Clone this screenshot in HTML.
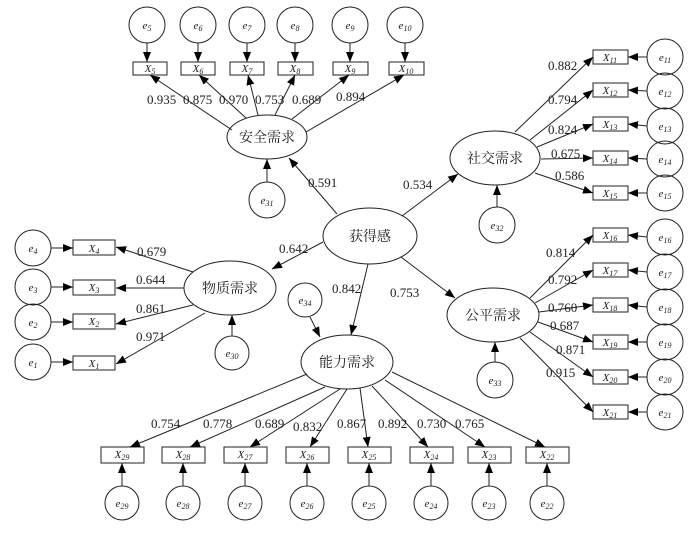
<!DOCTYPE html>
<html><head><meta charset="utf-8"><style>
html,body{margin:0;padding:0;background:#fff}
svg{display:block}
text{font-family:"Liberation Serif","Noto Serif CJK SC",serif;fill:#222}
.n{font-size:13px}
.cn{font-size:14px;font-family:"Liberation Serif","Noto Serif CJK SC",serif}
.v{font-style:italic;font-size:11px}
</style></head><body>
<svg width="696" height="536" viewBox="0 0 696 536" xmlns="http://www.w3.org/2000/svg">
<defs><marker id="a" viewBox="0 0 10 8" refX="10" refY="4" markerWidth="10" markerHeight="8" markerUnits="userSpaceOnUse" orient="auto"><path d="M0,0L10,4L0,8z" fill="#000"/></marker></defs>
<g stroke="#222" stroke-width="1" fill="none">
<!-- ellipses -->
<ellipse cx="267" cy="137" rx="40" ry="22"/>
<ellipse cx="370" cy="236" rx="47" ry="28"/>
<ellipse cx="230" cy="288" rx="46" ry="27"/>
<ellipse cx="347" cy="362" rx="46" ry="27"/>
<ellipse cx="495" cy="158" rx="45" ry="27"/>
<ellipse cx="493" cy="315" rx="46" ry="27"/>
<!-- top -->
<circle cx="147" cy="25" r="18"/><circle cx="198" cy="25" r="18"/><circle cx="247" cy="25" r="18"/><circle cx="295" cy="25" r="18"/><circle cx="350" cy="25" r="18"/><circle cx="405" cy="25" r="18"/>
<rect x="133" y="62" width="34" height="13"/><rect x="181" y="62" width="34" height="13"/><rect x="230" y="62" width="34" height="13"/><rect x="278" y="62" width="35" height="13"/><rect x="333" y="62" width="35" height="13"/><rect x="389" y="62" width="35" height="13"/>
<circle cx="267" cy="200" r="18"/>
<!-- left -->
<circle cx="33" cy="248" r="18"/><circle cx="33" cy="287" r="18"/><circle cx="33" cy="322" r="18"/><circle cx="33" cy="362" r="18"/>
<rect x="73" y="240" width="42" height="15"/><rect x="73" y="280" width="42" height="15"/><rect x="73" y="314" width="42" height="15"/><rect x="73" y="356" width="42" height="14"/>
<circle cx="232" cy="353" r="17"/>
<circle cx="305" cy="300" r="17"/>
<!-- right -->
<circle cx="665" cy="57" r="18"/><circle cx="665" cy="91" r="18"/><circle cx="665" cy="126" r="18"/><circle cx="665" cy="159" r="18"/><circle cx="665" cy="193" r="18"/>
<rect x="593" y="50" width="35" height="14"/><rect x="593" y="83" width="35" height="14"/><rect x="593" y="117" width="35" height="14"/><rect x="593" y="151" width="35" height="14"/><rect x="593" y="186" width="35" height="14"/>
<circle cx="497" cy="225" r="18"/>
<circle cx="665" cy="237" r="18"/><circle cx="665" cy="272" r="18"/><circle cx="665" cy="307" r="18"/><circle cx="665" cy="342" r="18"/><circle cx="665" cy="377" r="18"/><circle cx="665" cy="412" r="18"/>
<rect x="593" y="228" width="35" height="14"/><rect x="593" y="263" width="35" height="14"/><rect x="593" y="298" width="35" height="14"/><rect x="593" y="335" width="35" height="14"/><rect x="593" y="370" width="35" height="14"/><rect x="593" y="405" width="35" height="14"/>
<circle cx="495" cy="380" r="18"/>
<!-- bottom -->
<rect x="101" y="447" width="43" height="16"/><rect x="162" y="447" width="43" height="16"/><rect x="224" y="447" width="43" height="16"/><rect x="286" y="447" width="43" height="16"/><rect x="348" y="447" width="43" height="16"/><rect x="410" y="447" width="43" height="16"/><rect x="468" y="447" width="43" height="16"/><rect x="526" y="447" width="43" height="16"/>
<circle cx="122" cy="503" r="17"/><circle cx="183" cy="503" r="17"/><circle cx="245" cy="503" r="17"/><circle cx="307" cy="503" r="17"/><circle cx="369" cy="503" r="17"/><circle cx="431" cy="503" r="17"/><circle cx="489" cy="503" r="17"/><circle cx="547" cy="503" r="17"/>
</g>
<g stroke="#222" stroke-width="1" marker-end="url(#a)">
<line x1="147" y1="43" x2="147" y2="62"/><line x1="198" y1="43" x2="198" y2="62"/><line x1="247" y1="43" x2="247" y2="62"/><line x1="295" y1="43" x2="295" y2="62"/><line x1="350" y1="43" x2="350" y2="62"/><line x1="405" y1="43" x2="405" y2="62"/>
<line x1="232" y1="130" x2="150" y2="75"/><line x1="246" y1="118" x2="199" y2="75"/><line x1="258" y1="115" x2="248" y2="75"/><line x1="275" y1="115" x2="295" y2="75"/><line x1="292" y1="119" x2="349" y2="75"/><line x1="306" y1="132" x2="404" y2="75"/>
<line x1="267" y1="182" x2="267" y2="159"/>
<line x1="337" y1="214" x2="289" y2="158"/>
<line x1="402" y1="216" x2="458" y2="174"/>
<line x1="323" y1="242" x2="272" y2="269"/>
<line x1="368" y1="264" x2="351" y2="335"/>
<line x1="401" y1="257" x2="455" y2="298"/>
<line x1="51" y1="248" x2="73" y2="248"/><line x1="51" y1="287" x2="73" y2="287"/><line x1="51" y1="322" x2="73" y2="322"/><line x1="51" y1="362" x2="73" y2="362"/>
<line x1="193" y1="272" x2="116" y2="247"/><line x1="184" y1="288" x2="116" y2="288"/><line x1="193" y1="305" x2="116" y2="324"/><line x1="205" y1="313" x2="116" y2="364"/>
<line x1="232" y1="336" x2="232" y2="315"/>
<line x1="310" y1="317" x2="320" y2="337"/>
<line x1="647" y1="57" x2="628" y2="57"/><line x1="647" y1="91" x2="628" y2="90"/><line x1="647" y1="126" x2="628" y2="124"/><line x1="647" y1="159" x2="628" y2="158"/><line x1="647" y1="193" x2="628" y2="193"/>
<line x1="515" y1="132" x2="593" y2="57"/><line x1="530" y1="140" x2="593" y2="90"/><line x1="537" y1="147" x2="593" y2="124"/><line x1="541" y1="159" x2="593" y2="158"/><line x1="535" y1="173" x2="593" y2="193"/>
<line x1="497" y1="207" x2="497" y2="185"/>
<line x1="647" y1="237" x2="628" y2="235"/><line x1="647" y1="272" x2="628" y2="270"/><line x1="647" y1="307" x2="628" y2="305"/><line x1="647" y1="342" x2="628" y2="342"/><line x1="647" y1="377" x2="628" y2="377"/><line x1="647" y1="412" x2="628" y2="412"/>
<line x1="530" y1="298" x2="593" y2="235"/><line x1="535" y1="303" x2="593" y2="270"/><line x1="539" y1="312" x2="593" y2="305"/><line x1="538" y1="322" x2="593" y2="342"/><line x1="530" y1="332" x2="593" y2="377"/><line x1="520" y1="338" x2="593" y2="412"/>
<line x1="495" y1="362" x2="495" y2="342"/>
<line x1="307" y1="374" x2="130" y2="447"/><line x1="325" y1="387" x2="190" y2="447"/><line x1="340" y1="389" x2="250" y2="447"/><line x1="347" y1="389" x2="310" y2="447"/><line x1="360" y1="388" x2="368" y2="447"/><line x1="372" y1="386" x2="428" y2="447"/><line x1="385" y1="380" x2="485" y2="447"/><line x1="392" y1="372" x2="545" y2="447"/>
<line x1="122" y1="486" x2="122" y2="463"/><line x1="183" y1="486" x2="183" y2="463"/><line x1="245" y1="486" x2="245" y2="463"/><line x1="307" y1="486" x2="307" y2="463"/><line x1="369" y1="486" x2="369" y2="463"/><line x1="431" y1="486" x2="431" y2="463"/><line x1="489" y1="486" x2="489" y2="463"/><line x1="547" y1="486" x2="547" y2="463"/>
</g>
<!-- latent labels -->
<g class="cn" text-anchor="middle">
<text x="267" y="142">安全需求</text>
<text x="370" y="241">获得感</text>
<text x="230" y="293">物质需求</text>
<text x="347" y="367">能力需求</text>
<text x="495" y="163">社交需求</text>
<text x="493" y="320">公平需求</text>
</g>
<!-- variable labels -->
<g class="v" text-anchor="middle">
<text x="147" y="29">e<tspan font-size="8" dy="2">5</tspan></text>
<text x="198" y="29">e<tspan font-size="8" dy="2">6</tspan></text>
<text x="247" y="29">e<tspan font-size="8" dy="2">7</tspan></text>
<text x="295" y="29">e<tspan font-size="8" dy="2">8</tspan></text>
<text x="350" y="29">e<tspan font-size="8" dy="2">9</tspan></text>
<text x="405" y="29">e<tspan font-size="8" dy="2">10</tspan></text>
<text x="150" y="72">X<tspan font-size="8" dy="2">5</tspan></text>
<text x="198" y="72">X<tspan font-size="8" dy="2">6</tspan></text>
<text x="247" y="72">X<tspan font-size="8" dy="2">7</tspan></text>
<text x="295" y="72">X<tspan font-size="8" dy="2">8</tspan></text>
<text x="350" y="72">X<tspan font-size="8" dy="2">9</tspan></text>
<text x="406" y="72">X<tspan font-size="8" dy="2">10</tspan></text>
<text x="267" y="204">e<tspan font-size="8" dy="2">31</tspan></text>
<text x="33" y="252">e<tspan font-size="8" dy="2">4</tspan></text>
<text x="33" y="291">e<tspan font-size="8" dy="2">3</tspan></text>
<text x="33" y="326">e<tspan font-size="8" dy="2">2</tspan></text>
<text x="33" y="366">e<tspan font-size="8" dy="2">1</tspan></text>
<text x="94" y="252">X<tspan font-size="8" dy="2">4</tspan></text>
<text x="94" y="291">X<tspan font-size="8" dy="2">3</tspan></text>
<text x="94" y="325">X<tspan font-size="8" dy="2">2</tspan></text>
<text x="94" y="367">X<tspan font-size="8" dy="2">1</tspan></text>
<text x="232" y="357">e<tspan font-size="8" dy="2">30</tspan></text>
<text x="305" y="304">e<tspan font-size="8" dy="2">34</tspan></text>
<text x="665" y="61">e<tspan font-size="8" dy="2">11</tspan></text>
<text x="665" y="95">e<tspan font-size="8" dy="2">12</tspan></text>
<text x="665" y="130">e<tspan font-size="8" dy="2">13</tspan></text>
<text x="665" y="163">e<tspan font-size="8" dy="2">14</tspan></text>
<text x="665" y="197">e<tspan font-size="8" dy="2">15</tspan></text>
<text x="610" y="61">X<tspan font-size="8" dy="2">11</tspan></text>
<text x="610" y="94">X<tspan font-size="8" dy="2">12</tspan></text>
<text x="610" y="128">X<tspan font-size="8" dy="2">13</tspan></text>
<text x="610" y="162">X<tspan font-size="8" dy="2">14</tspan></text>
<text x="610" y="197">X<tspan font-size="8" dy="2">15</tspan></text>
<text x="497" y="229">e<tspan font-size="8" dy="2">32</tspan></text>
<text x="665" y="241">e<tspan font-size="8" dy="2">16</tspan></text>
<text x="665" y="276">e<tspan font-size="8" dy="2">17</tspan></text>
<text x="665" y="311">e<tspan font-size="8" dy="2">18</tspan></text>
<text x="665" y="346">e<tspan font-size="8" dy="2">19</tspan></text>
<text x="665" y="381">e<tspan font-size="8" dy="2">20</tspan></text>
<text x="665" y="416">e<tspan font-size="8" dy="2">21</tspan></text>
<text x="610" y="239">X<tspan font-size="8" dy="2">16</tspan></text>
<text x="610" y="274">X<tspan font-size="8" dy="2">17</tspan></text>
<text x="610" y="309">X<tspan font-size="8" dy="2">18</tspan></text>
<text x="610" y="346">X<tspan font-size="8" dy="2">19</tspan></text>
<text x="610" y="381">X<tspan font-size="8" dy="2">20</tspan></text>
<text x="610" y="416">X<tspan font-size="8" dy="2">21</tspan></text>
<text x="495" y="384">e<tspan font-size="8" dy="2">33</tspan></text>
<text x="122" y="458">X<tspan font-size="8" dy="2">29</tspan></text>
<text x="183" y="458">X<tspan font-size="8" dy="2">28</tspan></text>
<text x="245" y="458">X<tspan font-size="8" dy="2">27</tspan></text>
<text x="307" y="458">X<tspan font-size="8" dy="2">26</tspan></text>
<text x="369" y="458">X<tspan font-size="8" dy="2">25</tspan></text>
<text x="431" y="458">X<tspan font-size="8" dy="2">24</tspan></text>
<text x="489" y="458">X<tspan font-size="8" dy="2">23</tspan></text>
<text x="547" y="458">X<tspan font-size="8" dy="2">22</tspan></text>
<text x="122" y="507">e<tspan font-size="8" dy="2">29</tspan></text>
<text x="183" y="507">e<tspan font-size="8" dy="2">28</tspan></text>
<text x="245" y="507">e<tspan font-size="8" dy="2">27</tspan></text>
<text x="307" y="507">e<tspan font-size="8" dy="2">26</tspan></text>
<text x="369" y="507">e<tspan font-size="8" dy="2">25</tspan></text>
<text x="431" y="507">e<tspan font-size="8" dy="2">24</tspan></text>
<text x="489" y="507">e<tspan font-size="8" dy="2">23</tspan></text>
<text x="547" y="507">e<tspan font-size="8" dy="2">22</tspan></text>
</g>
<!-- coefficients -->
<g class="n">
<text x="147" y="104">0.935</text>
<text x="183" y="104">0.875</text>
<text x="219" y="104">0.970</text>
<text x="255" y="104">0.753</text>
<text x="292" y="104">0.689</text>
<text x="336" y="101">0.894</text>
<text x="308" y="187">0.591</text>
<text x="403" y="189">0.534</text>
<text x="279" y="253">0.642</text>
<text x="332" y="293">0.842</text>
<text x="390" y="297">0.753</text>
<text x="137" y="256">0.679</text>
<text x="136" y="284">0.644</text>
<text x="136" y="313">0.861</text>
<text x="136" y="341">0.971</text>
<text x="548" y="70">0.882</text>
<text x="548" y="104">0.794</text>
<text x="548" y="134">0.824</text>
<text x="551" y="158">0.675</text>
<text x="555" y="180">0.586</text>
<text x="546" y="257">0.814</text>
<text x="548" y="284">0.792</text>
<text x="548" y="312">0.760</text>
<text x="550" y="330">0.687</text>
<text x="556" y="354">0.871</text>
<text x="546" y="377">0.915</text>
<text x="151" y="428">0.754</text>
<text x="203" y="428">0.778</text>
<text x="255" y="428">0.689</text>
<text x="293" y="431">0.832</text>
<text x="337" y="428">0.867</text>
<text x="378" y="428">0.892</text>
<text x="417" y="428">0.730</text>
<text x="455" y="428">0.765</text>
</g>
</svg>
</body></html>
